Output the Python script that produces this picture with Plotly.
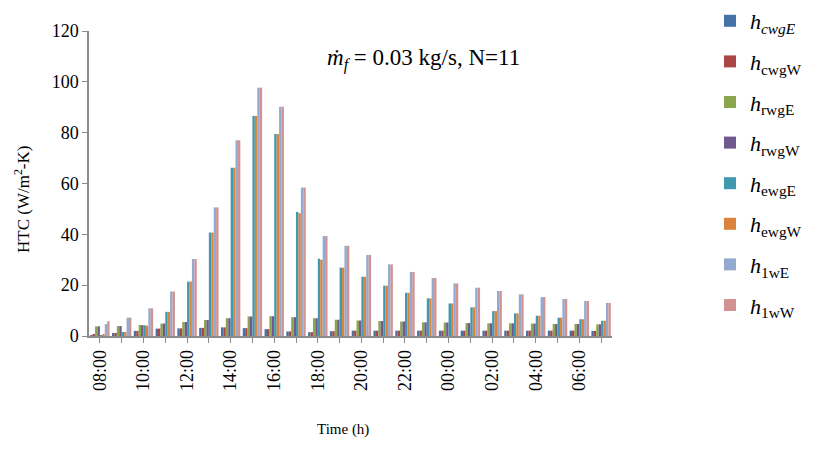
import plotly.graph_objects as go

hours = ["08:00", "09:00", "10:00", "11:00", "12:00", "13:00", "14:00", "15:00",
         "16:00", "17:00", "18:00", "19:00", "20:00", "21:00", "22:00", "23:00",
         "00:00", "01:00", "02:00", "03:00", "04:00", "05:00", "06:00", "07:00"]

h_cwgE = [0.3, 1.2, 2.0, 2.9, 3.0, 3.2, 3.4, 3.1, 2.7, 1.8, 1.5, 1.9,
          2.1, 2.1, 2.1, 2.1, 2.1, 2.1, 2.1, 2.1, 2.1, 2.1, 2.1, 2.0]
h_cwgW = [0.7, 1.2, 2.0, 2.9, 3.0, 3.2, 3.4, 3.1, 2.7, 1.8, 1.5, 1.9,
          2.1, 2.1, 2.1, 2.1, 2.1, 2.1, 2.1, 2.1, 2.1, 2.1, 2.1, 2.0]
h_rwgE = [3.8, 3.9, 4.3, 4.9, 5.5, 6.3, 7.0, 7.7, 7.8, 7.4, 7.0, 6.4,
          6.1, 5.9, 5.7, 5.4, 5.3, 5.1, 5.0, 5.0, 4.9, 4.7, 4.7, 4.6]
h_rwgW = [3.8, 3.9, 4.3, 4.9, 5.5, 6.3, 7.0, 7.7, 7.8, 7.4, 7.0, 6.4,
          6.1, 5.9, 5.7, 5.4, 5.3, 5.1, 5.0, 5.0, 4.9, 4.7, 4.7, 4.6]
h_ewgE = [0.1, 1.6, 4.2, 9.5, 21.4, 40.7, 66.2, 86.6, 79.5, 48.8, 30.4, 26.9,
          23.3, 19.8, 17.0, 14.8, 12.8, 11.3, 9.8, 8.9, 8.0, 7.2, 6.6, 6.0]
h_ewgW = [0.8, 1.6, 4.1, 9.5, 21.4, 40.7, 66.2, 86.6, 79.5, 48.3, 30.0, 26.9,
          23.3, 19.8, 17.0, 14.8, 12.8, 11.3, 9.8, 8.9, 8.0, 7.2, 6.6, 6.0]
h_1wE = [4.7, 7.2, 10.9, 17.5, 30.3, 50.6, 77.0, 97.7, 90.2, 58.4, 39.3, 35.5,
         31.9, 28.2, 25.2, 22.8, 20.7, 19.0, 17.7, 16.4, 15.3, 14.6, 13.8, 13.0]
h_1wW = [5.8, 7.2, 10.9, 17.5, 30.3, 50.6, 77.0, 97.7, 90.2, 58.4, 39.3, 35.5,
         31.9, 28.2, 25.2, 22.8, 20.7, 19.0, 17.7, 16.4, 15.3, 14.6, 13.8, 13.0]

series_names = ["<i>h<sub>cwgE</sub></i>", "<i>h</i><sub>cwgW</sub>", "<i>h</i><sub>rwgE</sub>",
                "<i>h</i><sub>rwgW</sub>", "<i>h</i><sub>ewgE</sub>", "<i>h</i><sub>ewgW</sub>",
                "<i>h</i><sub>1wE</sub>", "<i>h</i><sub>1wW</sub>"]
series_values = [h_cwgE, h_cwgW, h_rwgE, h_rwgW, h_ewgE, h_ewgW, h_1wE, h_1wW]
colors = ["#4572A7", "#AA4643", "#89A54E", "#71588F", "#4198AF", "#DB843D", "#93A9CF", "#D19392"]

tick_text = [h if i % 2 == 0 else "" for i, h in enumerate(hours)]

fig = go.Figure()
for i, (name, vals, col) in enumerate(zip(series_names, series_values, colors)):
    fig.add_trace(go.Bar(x=hours, y=vals, name=name, marker=dict(color=col, line=dict(width=0)),
                         legendgroup=f"g{i}"))

serif = "Liberation Serif, Times New Roman, serif"
fig.update_layout(
    width=817, height=473,
    margin=dict(l=89, r=205, t=31, b=137, autoexpand=False),
    paper_bgcolor="white", plot_bgcolor="white",
    barmode="group", bargap=0.11, bargroupgap=0,
    font=dict(family=serif, size=18, color="black"),
    showlegend=True,
    legend=dict(xref="container", yref="container", x=0.869, xanchor="left",
                y=1.0, yanchor="top", maxheight=470,
                traceorder="grouped", tracegroupgap=9,
                font=dict(family=serif, size=22), bgcolor="rgba(0,0,0,0)"),
    xaxis=dict(tickmode="array", tickvals=hours, ticktext=tick_text, tickangle=-90,
               showline=True, linecolor="#8C8C8C", linewidth=1.5,
               ticks="outside", ticklen=5, tickcolor="#8C8C8C",
               showgrid=False, tickfont=dict(family=serif, size=18)),
    yaxis=dict(range=[0, 120], dtick=20, showline=True, linecolor="#8C8C8C", linewidth=1.5,
               ticks="outside", ticklen=5, tickcolor="#8C8C8C", showgrid=False, zeroline=False,
               tickfont=dict(family=serif, size=18)),
    annotations=[
        dict(text="<i>ṁ<sub>f</sub></i> = 0.03 kg/s, N=11", xref="paper", yref="paper",
             x=0.64, y=0.905, xanchor="center", yanchor="middle", showarrow=False,
             font=dict(family=serif, size=23)),
        dict(text="HTC (W/m<sup>2</sup>-K)", xref="paper", yref="paper",
             x=-0.128, y=0.446, xanchor="center", yanchor="middle", textangle=-90,
             showarrow=False, font=dict(family=serif, size=17)),
        dict(text="Time (h)", xref="paper", yref="paper",
             x=0.486, y=-0.308, xanchor="center", yanchor="middle", showarrow=False,
             font=dict(family=serif, size=15)),
    ],
)

fig.write_html("out.html", config={"displayModeBar": False},
               post_script="document.body.style.margin='0';")
